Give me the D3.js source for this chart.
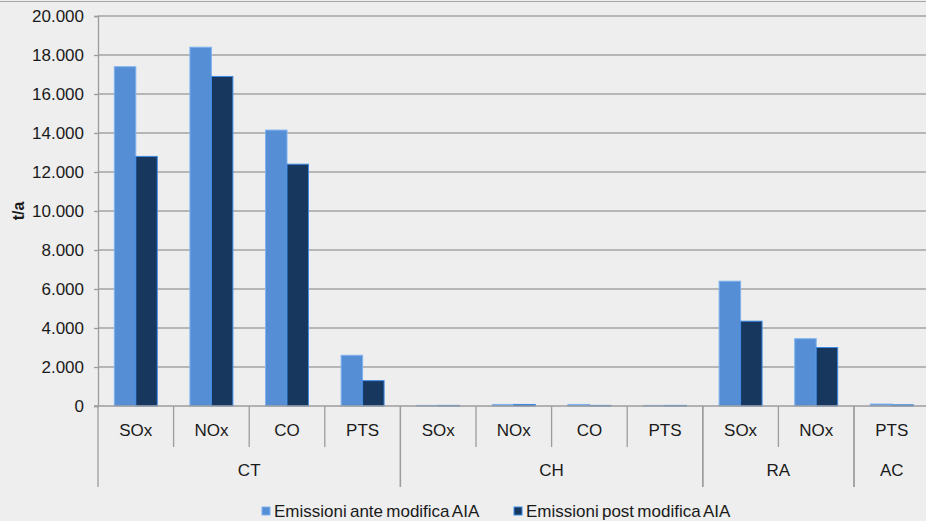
<!DOCTYPE html>
<html>
<head>
<meta charset="utf-8">
<script src="https://cdn.jsdelivr.net/npm/d3@7"></script>
<style>
  body { margin: 0; background: #eeeeee; }
  svg { display: block; font-family: "Liberation Sans", Arial, sans-serif; }
</style>
</head>
<body>
<div id="chart"></div>
<script>
// data
const plants = ["CT", "CT", "CT", "CT", "CH", "CH", "CH", "CH", "RA", "RA", "AC"];
const pollutants = ["SOx", "NOx", "CO", "PTS", "SOx", "NOx", "CO", "PTS", "SOx", "NOx", "PTS"];
const anteValues = [17400, 18400, 14150, 2600, 30, 80, 80, 30, 6400, 3450, 100];
const postValues = [12800, 16900, 12400, 1300, 30, 80, 30, 30, 4350, 3000, 60];
const seriesNames = ["Emissioni ante modifica AIA", "Emissioni post modifica AIA"];
const yTicks = [0, 2000, 4000, 6000, 8000, 10000, 12000, 14000, 16000, 18000, 20000];

const width = 926, height = 521;
const margin = {top: 16, left: 98, bottom: 115};
const bandW = 75.6;
const fontSize = 17;

const it = d3.formatLocale({decimal: ",", thousands: ".", grouping: [3], currency: ["€", ""]});
const fmt = it.format(",");

const svg = d3.select("#chart").append("svg")
    .attr("width", width)
    .attr("height", height);

svg.append("rect").attr("width", width).attr("height", height).attr("fill", "#eeeeee");

// top border
svg.append("line")
    .attr("x1", 0).attr("x2", width).attr("y1", 1.5).attr("y2", 1.5)
    .attr("stroke", "#a6a6a6").attr("stroke-width", 1);

const keys = plants.map((p, i) => p + "|" + pollutants[i] + "|" + i);

const x = d3.scaleBand()
    .domain(keys)
    .range([margin.left, margin.left + bandW * keys.length]);

const x1 = d3.scaleBand()
    .domain(["ante", "post"])
    .range([0, x.bandwidth()])
    .paddingOuter(0.76);

const y = d3.scaleLinear()
    .domain([0, 20000])
    .range([height - margin.bottom, margin.top]);

const y0 = y(0);

// gridlines
svg.append("g")
    .selectAll("line")
    .data(yTicks.filter(d => d > 0))
    .join("line")
    .attr("x1", margin.left).attr("x2", width)
    .attr("y1", d => y(d)).attr("y2", d => y(d))
    .attr("stroke", "#a3a3a3").attr("stroke-width", 1.3);

// y axis
const yAxis = d3.axisLeft(y)
    .tickValues(yTicks)
    .tickFormat(fmt)
    .tickSize(4)
    .tickPadding(10);

const yg = svg.append("g")
    .attr("transform", `translate(${margin.left},0)`)
    .call(yAxis);
yg.attr("font-family", null);
yg.select(".domain").attr("stroke", "#9c9c9c").attr("stroke-width", 1.3);
yg.selectAll(".tick line").attr("stroke", "#9c9c9c").attr("stroke-width", 1.3);
yg.selectAll(".tick text").attr("font-size", fontSize).attr("fill", "#1a1a1a");

svg.append("text")
    .attr("transform", `translate(24,${(y0 + margin.top) / 2}) rotate(-90)`)
    .attr("text-anchor", "middle")
    .attr("font-size", 16)
    .attr("font-weight", "bold")
    .attr("fill", "#1a1a1a")
    .text("t/a");

// bars
const rows = keys.map((k, i) => ({key: k, ante: anteValues[i], post: postValues[i]}));

const groupsG = svg.append("g")
    .selectAll("g")
    .data(rows)
    .join("g")
    .attr("transform", d => `translate(${x(d.key)},0)`);

groupsG.append("rect")
    .attr("x", x1("ante"))
    .attr("width", x1.bandwidth())
    .attr("y", d => y(d.ante))
    .attr("height", d => y0 - y(d.ante))
    .attr("fill", "#558ed5")
    .attr("stroke", "#7fb2f0")
    .attr("stroke-width", 1);

groupsG.append("rect")
    .attr("x", x1("post"))
    .attr("width", x1.bandwidth())
    .attr("y", d => y(d.post))
    .attr("height", d => y0 - y(d.post))
    .attr("fill", "#17375e")
    .attr("stroke", "#3d8be6")
    .attr("stroke-width", 1);

// x axis line
svg.append("line")
    .attr("x1", margin.left - 4).attr("x2", width)
    .attr("y1", y0).attr("y2", y0)
    .attr("stroke", "#9c9c9c").attr("stroke-width", 1.3);

// separators between pollutants
const xg = svg.append("g");
keys.forEach((k, i) => {
    const left = x(k);
    const groupStart = i === 0 || plants[i] !== plants[i - 1];
    xg.append("line")
        .attr("x1", left).attr("x2", left)
        .attr("y1", y0).attr("y2", groupStart ? y0 + 81 : y0 + 41)
        .attr("stroke", "#9c9c9c").attr("stroke-width", 1.3);
    xg.append("text")
        .attr("x", left + x.bandwidth() / 2)
        .attr("y", y0 + 30)
        .attr("text-anchor", "middle")
        .attr("font-size", fontSize)
        .attr("fill", "#1a1a1a")
        .text(pollutants[i]);
});

// plant labels
const plantNames = Array.from(new Set(plants));
plantNames.forEach(p => {
    const idx = keys.filter((k, i) => plants[i] === p);
    const x0 = x(idx[0]);
    const x2 = x(idx[idx.length - 1]) + x.bandwidth();
    xg.append("line")
        .attr("x1", x2).attr("x2", x2)
        .attr("y1", y0).attr("y2", y0 + 81)
        .attr("stroke", "#9c9c9c").attr("stroke-width", 1.3);
    xg.append("text")
        .attr("x", (x0 + x2) / 2)
        .attr("y", y0 + 70)
        .attr("text-anchor", "middle")
        .attr("font-size", fontSize)
        .attr("fill", "#1a1a1a")
        .text(p);
});

// legend
const legendColors = [["#558ed5", "#7fb2f0"], ["#17375e", "#3d8be6"]];
const legendX = [262, 514];
seriesNames.forEach((name, i) => {
    const g = svg.append("g").attr("transform", `translate(${legendX[i]},507)`);
    g.append("rect")
        .attr("width", 8).attr("height", 8)
        .attr("fill", legendColors[i][0])
        .attr("stroke", legendColors[i][1]).attr("stroke-width", 1);
    g.append("text")
        .attr("x", 12).attr("y", 10)
        .attr("font-size", fontSize)
        .attr("word-spacing", -1.5)
        .attr("fill", "#1a1a1a")
        .text(name);
});
</script>
</body>
</html>
